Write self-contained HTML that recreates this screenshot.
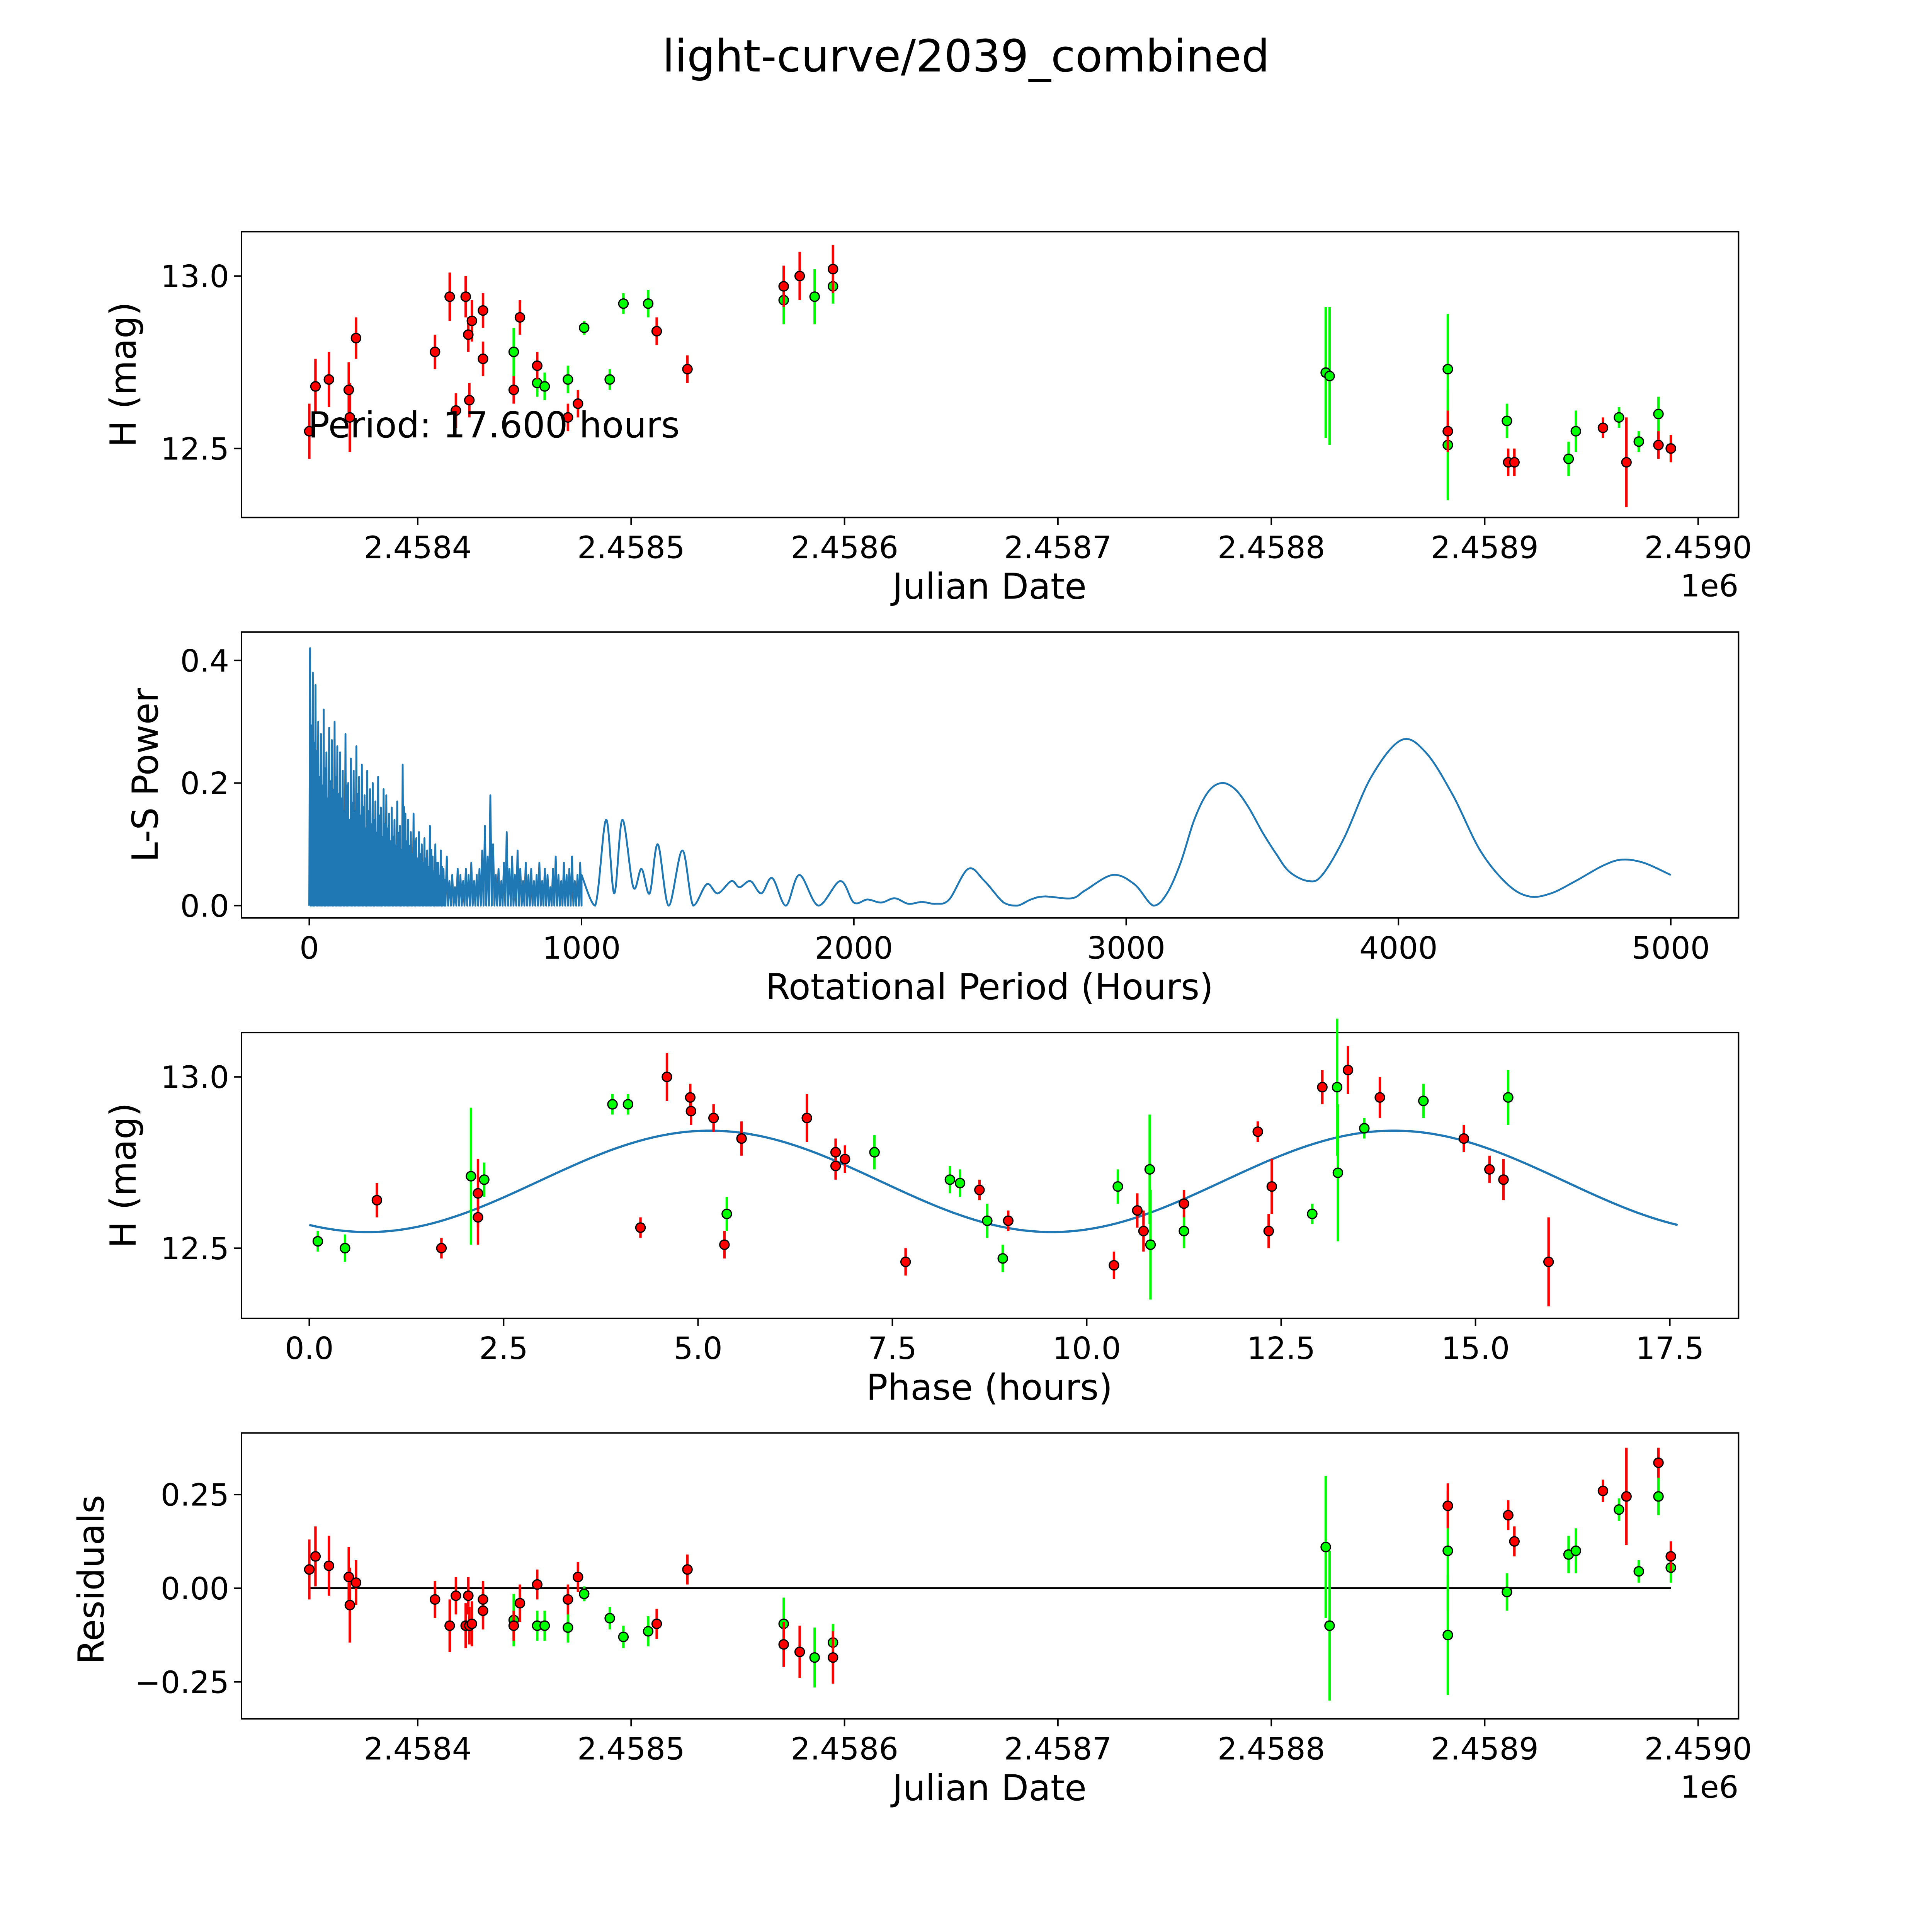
<!DOCTYPE html>
<html><head><meta charset="utf-8"><style>
html,body{margin:0;padding:0;background:#fff;overflow:hidden;width:100vw;height:100vh}
svg{display:block;width:100vw;height:100vh}
text{font-family:"DejaVu Sans","Liberation Sans",sans-serif;fill:#000}
</style></head><body>
<svg id="fig" xmlns="http://www.w3.org/2000/svg" viewBox="0 0 1568 1568" preserveAspectRatio="none">
<rect width="1568" height="1568" fill="#fff"/>
<text x="784" y="58" font-size="36" text-anchor="middle">light-curve/2039_combined</text>
</svg>
<script>
// ---- Panel 1 / 4 data (days offset from 2458400, mag, err) ----
const redDays=[-50.8,-47.9,-41.6,-32.3,-31.8,-28.9,8.1,15.0,17.9,22.5,23.7,24.2,25.4,30.6,30.6,45.0,47.9,56.0,75.1,70.4,112,126.4,171.5,179,194.6,482.7,511,513.9,555.4,566.4,581.4,587.2];
const redMag=[12.55,12.68,12.70,12.67,12.59,12.82,12.78,12.94,12.61,12.94,12.83,12.64,12.87,12.90,12.76,12.67,12.88,12.74,12.63,12.59,12.84,12.73,12.97,13.00,13.02,12.55,12.46,12.46,12.56,12.46,12.51,12.50];
const redErr=[0.08,0.08,0.08,0.08,0.1,0.06,0.05,0.07,0.05,0.06,0.05,0.05,0.06,0.05,0.05,0.04,0.05,0.04,0.04,0.04,0.04,0.04,0.06,0.07,0.07,0.06,0.04,0.04,0.03,0.13,0.04,0.04];
const redRes=[0.05,0.085,0.06,0.03,-0.045,0.015,-0.03,-0.10,-0.02,-0.10,-0.02,-0.10,-0.095,-0.06,-0.03,-0.10,-0.04,0.01,0.03,-0.03,-0.095,0.05,-0.15,-0.17,-0.185,0.22,0.195,0.125,0.26,0.245,0.335,0.085];
const grnDays=[45,56,59.5,70.4,78,90,96.4,108,171.5,186,194.6,425.5,427.3,482.7,482.7,510.4,539.3,542.7,562.9,572.2,581.4,587.2];
const grnMag=[12.78,12.69,12.68,12.70,12.85,12.70,12.92,12.92,12.93,12.94,12.97,12.72,12.71,12.73,12.51,12.58,12.47,12.55,12.59,12.52,12.60,12.50];
const grnErr=[0.07,0.04,0.04,0.04,0.02,0.03,0.03,0.04,0.07,0.08,0.05,0.19,0.2,0.16,0.16,0.05,0.05,0.06,0.03,0.03,0.05,0.04];
const grnRes=[-0.085,-0.10,-0.10,-0.105,-0.015,-0.08,-0.13,-0.115,-0.095,-0.185,-0.145,0.11,-0.10,0.10,-0.125,-0.01,0.09,0.10,0.21,0.045,0.245,0.055];
// ---- Panel 3 phased data ----
const redPhase=[0.87,1.70,2.17,2.17,4.26,4.60,4.90,4.91,5.20,5.34,5.56,6.40,6.77,6.77,6.89,7.67,8.62,8.99,10.35,10.65,10.73,11.25,12.2,12.34,12.38,13.03,13.36,13.77,14.85,15.18,15.36,15.94];
const redPMag=[12.64,12.50,12.66,12.59,12.56,13.00,12.94,12.90,12.88,12.51,12.82,12.88,12.78,12.74,12.76,12.46,12.67,12.58,12.45,12.61,12.55,12.63,12.84,12.55,12.68,12.97,13.02,12.94,12.82,12.73,12.70,12.46];
const redPErr=[0.05,0.03,0.1,0.08,0.03,0.07,0.04,0.04,0.04,0.04,0.05,0.07,0.04,0.04,0.04,0.04,0.03,0.03,0.04,0.05,0.06,0.04,0.03,0.05,0.08,0.05,0.07,0.06,0.04,0.04,0.06,0.13];
const grnPhase=[0.11,0.46,2.08,2.25,3.90,4.10,5.37,7.27,8.24,8.37,8.72,8.92,10.40,10.81,10.82,11.25,12.90,13.22,13.23,13.57,14.33,15.42];
const grnPMag=[12.52,12.50,12.71,12.70,12.92,12.92,12.60,12.78,12.70,12.69,12.58,12.47,12.68,12.73,12.51,12.55,12.60,12.97,12.72,12.85,12.93,12.94];
const grnPErr=[0.03,0.04,0.2,0.05,0.03,0.03,0.05,0.05,0.04,0.04,0.05,0.04,0.05,0.16,0.16,0.05,0.03,0.2,0.2,0.03,0.05,0.08];
const modelMean=12.695, modelAmp=0.148, modelPeak=5.15, period=17.6;
// ---- Panel 2 periodogram ----
const spikeStart=0, spikeStep=10;
const spikePower=[0.42,0.38,0.36,0.30,0.28,0.32,0.25,0.29,0.27,0.30,0.26,0.25,0.22,0.28,0.20,0.24,0.22,0.26,0.21,0.23,0.18,0.22,0.19,0.20,0.17,0.21,0.16,0.19,0.18,0.15,0.16,0.14,0.17,0.13,0.23,0.15,0.14,0.12,0.15,0.11,0.12,0.10,0.11,0.09,0.13,0.08,0.10,0.07,0.09,0.06,0.08,0.04,0.05,0.03,0.06,0.05,0.04,0.06,0.05,0.07,0.04,0.05,0.06,0.09,0.13,0.08,0.18,0.10,0.05,0.06,0.04,0.07,0.12,0.06,0.08,0.05,0.09,0.06,0.04,0.07,0.05,0.06,0.04,0.05,0.07,0.04,0.06,0.05,0.03,0.06,0.08,0.05,0.04,0.07,0.05,0.06,0.08,0.04,0.05,0.07];
const smoothPeriod=[1000,1050,1090,1120,1150,1190,1220,1250,1280,1320,1370,1410,1460,1500,1550,1580,1620,1660,1700,1750,1800,1870,1950,2000,2050,2100,2150,2200,2250,2300,2350,2420,2480,2550,2600,2650,2700,2800,2850,2950,3030,3100,3150,3200,3250,3300,3350,3400,3450,3500,3550,3600,3670,3720,3800,3900,4010,4100,4200,4300,4400,4480,4560,4650,4750,4820,4900,5000];
const smoothPower=[0.05,0.0,0.14,0.02,0.14,0.03,0.06,0.02,0.10,0.0,0.09,0.0,0.035,0.02,0.04,0.03,0.04,0.02,0.045,0.0,0.05,0.0,0.04,0.005,0.01,0.005,0.012,0.003,0.006,0.003,0.01,0.06,0.04,0.005,0.0,0.01,0.015,0.012,0.025,0.05,0.035,0.0,0.02,0.07,0.14,0.185,0.20,0.19,0.16,0.12,0.085,0.055,0.04,0.05,0.11,0.21,0.27,0.25,0.18,0.09,0.035,0.015,0.02,0.04,0.065,0.075,0.07,0.05];

const NS="http://www.w3.org/2000/svg";
const svg=document.getElementById('fig');
function el(tag,attrs,parent){const e=document.createElementNS(NS,tag);for(const k in attrs)e.setAttribute(k,attrs[k]);(parent||svg).appendChild(e);return e;}
function txt(s,x,y,size,anchor,parent,rot){const t=el('text',{x:x,y:y,'font-size':size,'text-anchor':anchor||'middle'},parent);if(rot)t.setAttribute('transform','rotate(-90 '+x+' '+y+')');t.textContent=s;return t;}

const L=196,R=1411;
const panels=[188,513,838,1163], H=232;
const TF=25, LF=29;
function frame(top,name){
  const g=el('g',{});
  
  
  const r=el('rect',{x:L,y:top,width:R-L,height:H,fill:'none',stroke:'#000','stroke-width':1.2},g);
  
  
  return g;
}
function xTicks(g,vals,labels,sx,top){
  vals.forEach((v,i)=>{const x=sx(v);el('line',{x1:x,x2:x,y1:top+H,y2:top+H+6,stroke:'#000','stroke-width':1.2},g);
  const t=txt(labels[i],x,top+H+33,TF,'middle',g);
  
  });
}
function yTicks(g,vals,labels,sy){
  vals.forEach((v,i)=>{const y=sy(v);el('line',{x1:L-6,x2:L,y1:y,y2:y,stroke:'#000','stroke-width':1.2},g);
  const t=txt(labels[i],L-10,y+9,TF,'end',g);
  
  });
}
function points(g,xs,ys,errs,sx,sy,color,name){
  xs.forEach((xv,i)=>{const x=sx(xv);
    const l=el('line',{x1:x,x2:x,y1:sy(ys[i]-errs[i]),y2:sy(ys[i]+errs[i]),stroke:color,'stroke-width':2},g);
    
    });
  xs.forEach((xv,i)=>{
    const c=el('circle',{cx:sx(xv),cy:sy(ys[i]),r:3.8,fill:color,stroke:'#000','stroke-width':1},g);
    
    });
}
const jx=d=>339+(d/100)*173.2;
const jdTicks=[0,100,200,300,400,500,600];
const jdLabels=['2.4584','2.4585','2.4586','2.4587','2.4588','2.4589','2.4590'];

// Panel 1
{const top=panels[0];const g=frame(top,'raw-light-curve-panel');
 const sy=m=>224+(13.0-m)*280;
 xTicks(g,jdTicks,jdLabels,jx,top);yTicks(g,[12.5,13.0],['12.5','13.0'],sy);
 points(g,grnDays,grnMag,grnErr,jx,sy,'#00ff00','green-obs');
 points(g,redDays,redMag,redErr,jx,sy,'#ff0000','red-obs');
 let t=txt('Julian Date',803,486,LF,'middle',g);
 t=txt('1e6',1411,484,TF,'end',g);
 t=txt('H (mag)',110,304,LF,'middle',g,true);
 t=txt('Period: 17.600 hours',250,355,29,'start',g);}

// Panel 2
{const top=panels[1];const g=frame(top,'periodogram-panel');
 const sx=p=>251+p*1105/5000, sy=v=>735-v*497.5;
 xTicks(g,[0,1000,2000,3000,4000,5000],['0','1000','2000','3000','4000','5000'],sx,top);
 yTicks(g,[0,0.2,0.4],['0.0','0.2','0.4'],sy);
 let d='M'+sx(0)+' '+sy(0);
 spikePower.forEach((p,i)=>{const x0=spikeStart+i*spikeStep;
   if(i<50){
   d+=' L'+sx(x0+spikeStep*0.3).toFixed(2)+' '+sy(p).toFixed(2)+' L'+sx(x0+spikeStep*0.55).toFixed(2)+' '+sy(0)+' L'+sx(x0+spikeStep*0.8).toFixed(2)+' '+sy(p*0.7).toFixed(2)+' L'+sx(x0+spikeStep).toFixed(2)+' '+sy(0);
   } else {
   d+=' L'+sx(x0+spikeStep*0.5).toFixed(2)+' '+sy(p).toFixed(2)+' L'+sx(x0+spikeStep).toFixed(2)+' '+sy(0);
   }});
 const P=smoothPeriod.map((p,i)=>[sx(p),sy(smoothPower[i])]);
 d+=' L'+P[0][0].toFixed(2)+' '+P[0][1].toFixed(2);
 for(let i=0;i<P.length-1;i++){
   const p0=P[Math.max(0,i-1)],p1=P[i],p2=P[i+1],p3=P[Math.min(P.length-1,i+2)];
   const c1x=p1[0]+(p2[0]-p0[0])/6,c1y=p1[1]+(p2[1]-p0[1])/6;
   const c2x=p2[0]-(p3[0]-p1[0])/6,c2y=p2[1]-(p3[1]-p1[1])/6;
   d+=' C'+c1x.toFixed(2)+' '+Math.min(c1y,735).toFixed(2)+' '+c2x.toFixed(2)+' '+Math.min(c2y,735).toFixed(2)+' '+p2[0].toFixed(2)+' '+p2[1].toFixed(2);
 }
 const pl=el('path',{d:d,fill:'none',stroke:'#1f77b4','stroke-width':1.5,'stroke-linejoin':'round'},g);
 
 
 let t=txt('Rotational Period (Hours)',803,811,LF,'middle',g);
 t=txt('L-S Power',128,629,LF,'middle',g,true);}

// Panel 3
{const top=panels[2];const g=frame(top,'phased-curve-panel');
 const sx=p=>251+p*63.1, sy=m=>874+(13.0-m)*278;
 xTicks(g,[0,2.5,5,7.5,10,12.5,15,17.5],['0.0','2.5','5.0','7.5','10.0','12.5','15.0','17.5'],sx,top);
 yTicks(g,[12.5,13.0],['12.5','13.0'],sy);
 let d='';for(let i=0;i<=200;i++){const p=period*i/200;const m=modelMean+modelAmp*Math.cos(4*Math.PI*(p-modelPeak)/period);d+=(i?' L':'M')+sx(p).toFixed(2)+' '+sy(m).toFixed(2);}
 const ml=el('path',{d:d,fill:'none',stroke:'#1f77b4','stroke-width':1.8},g);
 
 
 points(g,grnPhase,grnPMag,grnPErr,sx,sy,'#00ff00','green-phased');
 points(g,redPhase,redPMag,redPErr,sx,sy,'#ff0000','red-phased');
 let t=txt('Phase (hours)',803,1136,LF,'middle',g);
 t=txt('H (mag)',110,954,LF,'middle',g,true);}

// Panel 4
{const top=panels[3];const g=frame(top,'residuals-panel');
 const sy=r=>1289-r*304;
 xTicks(g,jdTicks,jdLabels,jx,top);
 yTicks(g,[0.25,0,-0.25],['0.25','0.00','\u22120.25'],sy);
 const zl=el('line',{x1:jx(-50.8),x2:jx(587.2),y1:sy(0),y2:sy(0),stroke:'#000','stroke-width':1.5},g);
 
 
 points(g,grnDays,grnRes,grnErr,jx,sy,'#00ff00','green-residual');
 points(g,redDays,redRes,redErr,jx,sy,'#ff0000','red-residual');
 let t=txt('Julian Date',803,1461,LF,'middle',g);
 t=txt('1e6',1411,1459,TF,'end',g);
 t=txt('Residuals',84,1282,LF,'middle',g,true);}
</script>
</body></html>
